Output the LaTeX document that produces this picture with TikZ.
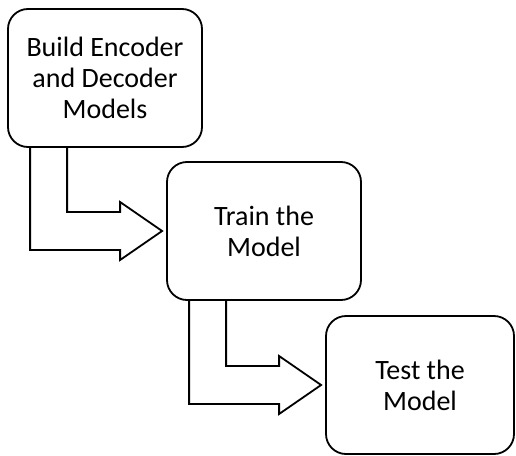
\documentclass[tikz,border=0pt]{standalone}
\usepackage{fontspec}
\setmainfont{Carlito}
\usetikzlibrary{calc}

\tikzstyle{stage} = [draw, line width=1.8pt, rounded corners=20pt, align=center, minimum width=194pt, minimum height=138pt, inner sep=0pt, font=\fontsize{28}{31}\selectfont]
\tikzstyle{hollow} = [draw, line width=1.8pt, line join=miter]

\begin{document}
\begin{tikzpicture}[x=1pt,y=1pt]
		\useasboundingbox (0,0) rectangle (516,-455);
		\node [stage] (build) at (105,-78) {Build Encoder\\and Decoder\\Models}; % first step
		\node [stage] (train) at (264,-231) {Train the\\Model};
		\node [stage, minimum width=188pt] (test) at (420,-385) {Test the\\Model};
		% bent block arrows from box to box
		\draw [hollow] ([xshift=23pt]build.south west) |- ([xshift=-46pt,yshift=-19pt]train.west) -- ++(0,-10) -- ([xshift=-4pt]train.west) -- ([xshift=-46pt,yshift=29pt]train.west) -- ++(0,-10) -| ([xshift=60pt]build.south west);
		\draw [hollow] ([xshift=23pt]train.south west) |- ([xshift=-46pt,yshift=-19pt]test.west) -- ++(0,-10) -- ([xshift=-4pt]test.west) -- ([xshift=-46pt,yshift=29pt]test.west) -- ++(0,-10) -| ([xshift=60pt]train.south west);
		
	\end{tikzpicture}
\end{document}
